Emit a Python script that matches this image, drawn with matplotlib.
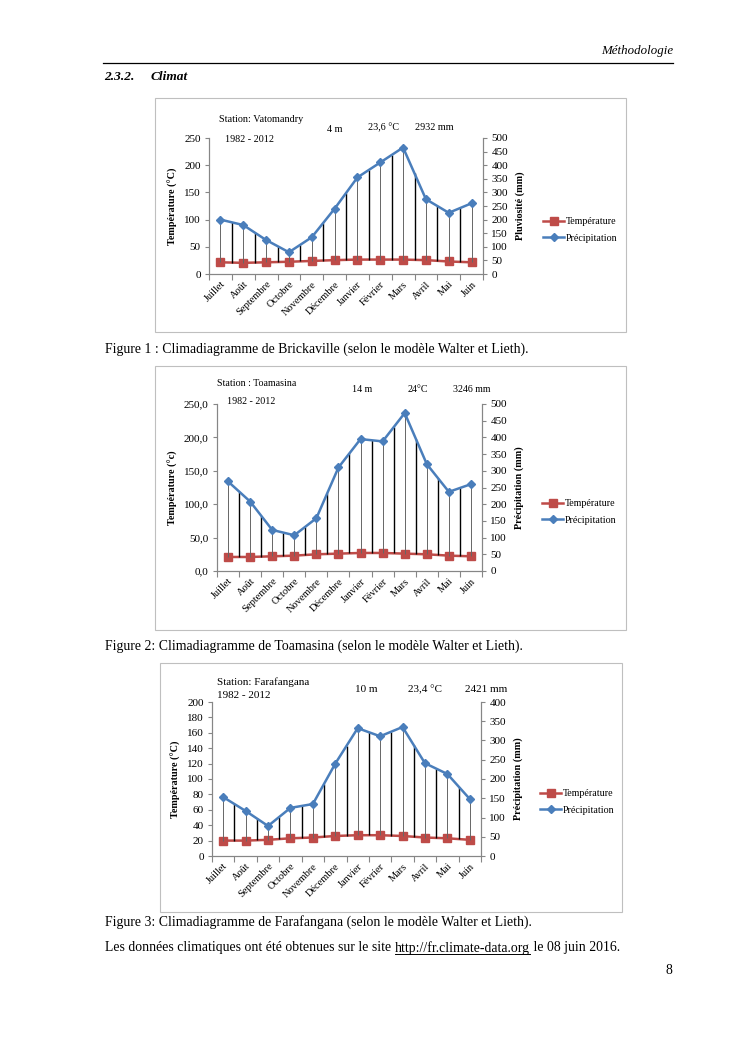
import numpy as np
import matplotlib
matplotlib.use("Agg")
import matplotlib.pyplot as plt
from matplotlib.patches import Rectangle
from matplotlib.lines import Line2D

plt.rcParams['font.family'] = ['Liberation Serif', 'DejaVu Serif']

W, H = 745, 1053

months = ['Juillet', 'Août', 'Septembre', 'Octobre', 'Novembre', 'Décembre',
          'Janvier', 'Février', 'Mars', 'Avril', 'Mai', 'Juin']

# Vatomandry (figure 1)
temp1 = [21.5, 20.5, 21.5, 22.5, 24, 25.5, 26.5, 26.5, 26.5, 25.5, 23, 21.5]
prec1 = [200, 180, 125, 80, 135, 240, 355, 410, 465, 275, 225, 260]
# Toamasina (figure 2)
temp2 = [21, 21, 22, 23, 25, 26, 27, 27, 26, 25, 23, 22]
prec2 = [268, 208, 123, 107, 158, 310, 395, 388, 473, 320, 237, 260]
# Farafangana (figure 3)
temp3 = [20, 20, 21, 23, 24, 26, 27, 27, 26, 24, 23, 21]
prec3 = [153, 117, 78, 125, 135, 240, 332, 311, 335, 241, 213, 148]

left_ticks1 = [0, 50, 100, 150, 200, 250]
left_labels1 = ['0', '50', '100', '150', '200', '250']
left_ticks2 = [0, 50, 100, 150, 200, 250]
left_labels2 = ['0,0', '50,0', '100,0', '150,0', '200,0', '250,0']
left_ticks3 = [0, 20, 40, 60, 80, 100, 120, 140, 160, 180, 200]
left_labels3 = [str(v) for v in left_ticks3]
right_ticks1 = list(range(0, 501, 50))
right_ticks3 = list(range(0, 401, 50))


def fx(px):
    return px / W


def fy(py):
    return 1 - py / H


def rect(l, r, t, b):
    return [fx(l), fy(b), fx(r) - fx(l), fy(t) - fy(b)]


fig = plt.figure(figsize=(W / 100, H / 100), dpi=100)

RED = '#be4b48'
BLUE = '#4a7ebb'
AXC = '#868686'


def climadiagram(box, axrect, temp, prec, lticks, llabels, rticks, ymax,
                 ylab, rlab, notes, notesize, legxy):
    fig.add_artist(Rectangle((fx(box[0]), fy(box[3])), fx(box[1]) - fx(box[0]),
                             fy(box[2]) - fy(box[3]), transform=fig.transFigure,
                             fill=False, edgecolor='#bfbfbf', lw=0.8))
    ax = fig.add_axes(rect(*axrect))
    ax2 = ax.twinx()
    x = np.arange(len(months))
    t2 = 2 * np.array(temp)
    p = np.array(prec)
    # hatching between the curves
    ax2.vlines(x, t2, p, color='#666666', lw=0.7, zorder=1)
    xm = x[:-1] + 0.5
    ax2.vlines(xm, np.interp(xm, x, t2), np.interp(xm, x, p), color='black', lw=1.0, zorder=1)

    ax.plot(x, temp, color=RED, lw=1.8, marker='s', ms=6, zorder=3)
    ax2.plot(x, prec, color=BLUE, lw=1.8, marker='D', ms=3.8, zorder=3)

    ax.set_xlim(-0.5, 11.5)
    ax.set_ylim(0, ymax)
    ax2.set_ylim(0, 2 * ymax)
    ax.set_yticks(lticks)
    ax.set_yticklabels(llabels)
    ax2.set_yticks(rticks)
    ax.set_xticks(x)
    ax.set_xticklabels(months, rotation=45, ha='right', rotation_mode='anchor')
    ax.set_xticks(np.arange(-0.5, 12, 1), minor=True)
    ax.tick_params(axis='x', which='major', length=0, labelsize=7.5, pad=4)
    ax.tick_params(axis='x', which='minor', length=4, color=AXC, width=0.8)
    ax.tick_params(axis='y', labelsize=8, length=3, color=AXC, width=0.8, pad=3)
    ax2.tick_params(axis='y', labelsize=8, length=3, color=AXC, width=0.8, pad=3)
    for a in (ax, ax2):
        a.spines['top'].set_visible(False)
        for s in ('left', 'right', 'bottom'):
            a.spines[s].set_color(AXC)
            a.spines[s].set_linewidth(0.8)
        a.patch.set_visible(False)
    ax.set_ylabel(ylab, fontsize=7.3, fontweight='bold', labelpad=4)
    ax2.set_ylabel(rlab, fontsize=7.3, fontweight='bold', labelpad=5)
    for (px, py, s) in notes:
        fig.text(fx(px), fy(py), s, fontsize=notesize, va='center', ha='left')
    handles = [Line2D([], [], color=RED, lw=1.8, marker='s', ms=6),
               Line2D([], [], color=BLUE, lw=1.8, marker='D', ms=3.8)]
    fig.legend(handles, ['Température', 'Précipitation'], loc='center left',
               bbox_to_anchor=(fx(legxy[0]), fy(legxy[1])), bbox_transform=fig.transFigure,
               frameon=False, fontsize=7.2, handlelength=2.1, handletextpad=0.15,
               labelspacing=0.75, borderpad=0, borderaxespad=0)


climadiagram((155, 626, 98, 332), (209, 483, 138, 274), temp1, prec1,
             left_ticks1, left_labels1, right_ticks1, 250,
             'Température (°C)', 'Pluviosité (mm)',
             [(219, 120, 'Station: Vatomandry'), (225, 139, '1982 - 2012'),
              (327, 129, '4 m'), (368, 128, '23,6 °C'), (415, 127, '2932 mm')],
             7.3, (543, 230))

climadiagram((155, 626, 366, 630), (217, 482, 404, 571), temp2, prec2,
             left_ticks2, left_labels2, right_ticks1, 250,
             'Température (°c)', 'Précipitation (mm)',
             [(217, 384, 'Station : Toamasina'), (227, 401, '1982 - 2012'),
              (352, 389, '14 m'), (408, 389, '24°C'), (453, 390, '3246 mm')],
             7.2, (542, 512))

climadiagram((160, 622, 663, 912), (212, 481, 702, 856), temp3, prec3,
             left_ticks3, left_labels3, right_ticks3, 200,
             'Température (°C)', 'Précipitation (mm)',
             [(217, 682, 'Station: Farafangana'), (217, 696, '1982 - 2012'),
              (355, 690, '10 m'), (408, 690, '23,4 °C'), (465, 690, '2421 mm')],
             8, (540, 802))

# page text
fig.text(fx(673), fy(51), 'Méthodologie', fontsize=9.3, style='italic', ha='right', va='center')
fig.add_artist(Line2D([fx(103), fx(673)], [fy(63), fy(63)], color='black', lw=0.9,
                      transform=fig.transFigure))
fig.text(fx(104), fy(77), '2.3.2.', fontsize=9.6, style='italic', fontweight='bold', va='center')
fig.text(fx(151), fy(77), 'Climat', fontsize=9.6, style='italic', fontweight='bold', va='center')

cap = dict(fontsize=9.9, va='center', ha='left')
fig.text(fx(105), fy(349), 'Figure 1 : Climadiagramme de Brickaville (selon le modèle Walter et Lieth).', **cap)
fig.text(fx(105), fy(646), 'Figure 2: Climadiagramme de Toamasina (selon le modèle Walter et Lieth).', **cap)
fig.text(fx(105), fy(922), 'Figure 3: Climadiagramme de Farafangana (selon le modèle Walter et Lieth).', **cap)

r = fig.canvas.get_renderer()
t1 = fig.text(fx(105), fy(948), 'Les données climatiques ont été obtenues sur le site ', **cap)
e1 = t1.get_window_extent(r)
t2 = fig.text(e1.x1 / W, fy(948), 'http://fr.climate-data.org', **cap)
e2 = t2.get_window_extent(r)
fig.add_artist(Line2D([e2.x0 / W, e2.x1 / W], [e2.y0 / H + 0.0012, e2.y0 / H + 0.0012],
                      color='black', lw=0.7, transform=fig.transFigure))
fig.text(e2.x1 / W, fy(948), ' le 08 juin 2016.', **cap)
fig.text(fx(672), fy(970), '8', fontsize=9.9, ha='right', va='center')

fig.savefig('out.png', dpi=100)
